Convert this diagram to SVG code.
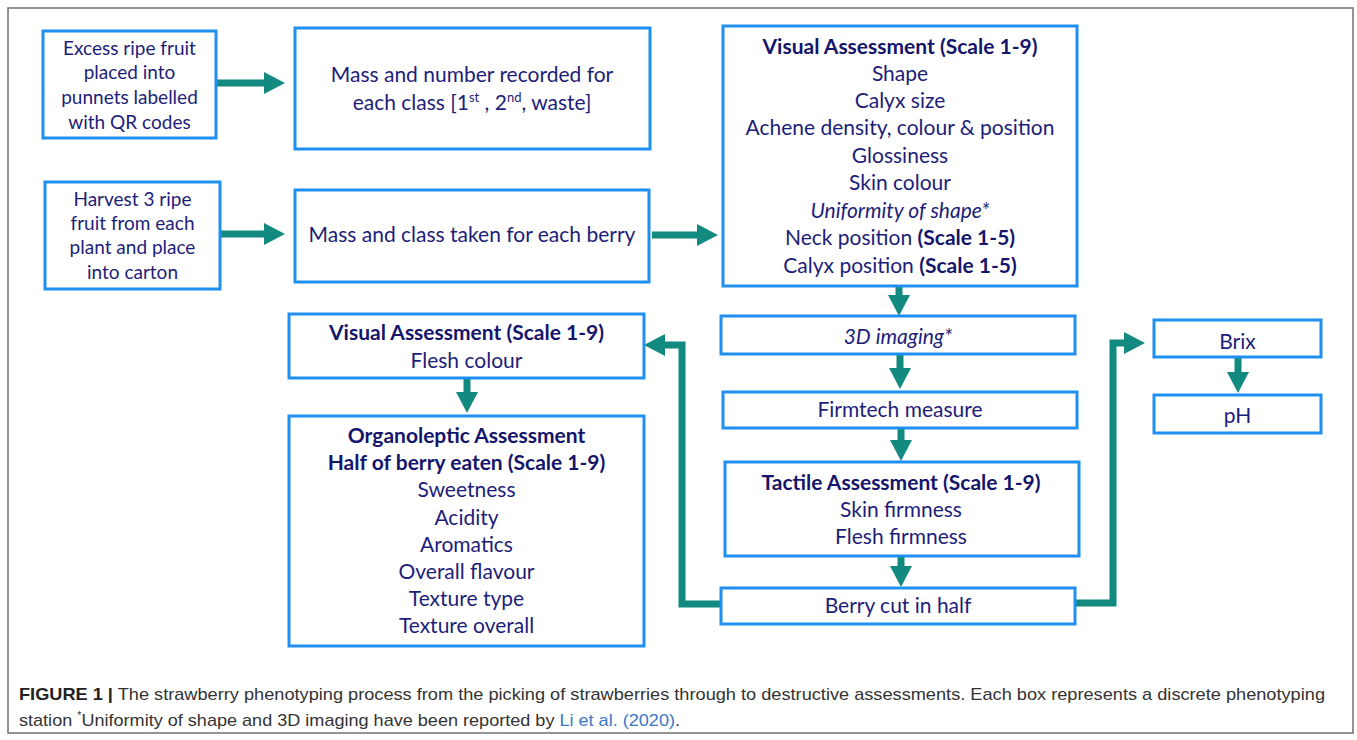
<svg xmlns="http://www.w3.org/2000/svg" width="1357" height="740" viewBox="0 0 1357 740">
<defs>
<style>
.box{fill:#ffffff;stroke:#1f8ff0;stroke-width:3}
.t{font-family:Lato,"Open Sans","Liberation Sans",sans-serif;font-size:21px;fill:#1d1d7a;text-anchor:middle}
.s{font-size:19px}
.b{font-weight:bold;fill:#15156b}
.i{font-style:italic}
.c{fill:none;stroke:#138a80;stroke-width:7;stroke-linejoin:miter;stroke-linecap:butt}
.cap{font-family:"Liberation Sans",Arial,sans-serif;font-size:17px;fill:#333333}
</style>
<marker id="ah" markerUnits="userSpaceOnUse" markerWidth="22" markerHeight="22" viewBox="0 0 22 22" refX="0" refY="11" orient="auto">
<path d="M0,0 L21,11 L0,22 Z" fill="#138a80"/>
</marker>
</defs>
<rect width="1357" height="740" fill="#ffffff"/>
<rect x="8" y="8" width="1345" height="725" fill="none" stroke="#707070" stroke-width="1.5"/>

<g id="connectors">
<path class="c" d="M216,83 H264" marker-end="url(#ah)"/>
<path class="c" d="M220,234 H264" marker-end="url(#ah)"/>
<path class="c" d="M652,235 H697" marker-end="url(#ah)"/>
<path class="c" d="M899,286 V295" marker-end="url(#ah)"/>
<path class="c" d="M900,355 V368" marker-end="url(#ah)"/>
<path class="c" d="M901,428 V440" marker-end="url(#ah)"/>
<path class="c" d="M901,556 V566" marker-end="url(#ah)"/>
<path class="c" d="M721,604 H682 V345 H665" marker-end="url(#ah)"/>
<path class="c" d="M1075,603 H1113 V343 H1124" marker-end="url(#ah)"/>
<path class="c" d="M1238,357 V372" marker-end="url(#ah)"/>
<path class="c" d="M467,378 V392" marker-end="url(#ah)"/>
</g>

<g id="n-excess">
<rect class="box" x="43" y="31" width="173" height="107"/>
<text class="t s" x="129.5" y="55">Excess ripe fruit</text>
<text class="t s" x="129.5" y="79">placed into</text>
<text class="t s" x="129.5" y="104">punnets labelled</text>
<text class="t s" x="129.5" y="129">with QR codes</text>
</g>

<g id="n-massnumber">
<rect class="box" x="295" y="28" width="355" height="121"/>
<text class="t" x="472" y="82">Mass and number recorded for</text>
<text class="t" x="472" y="110">each class [1<tspan font-size="13" dy="-8">st</tspan><tspan dy="8"> , 2</tspan><tspan font-size="13" dy="-8">nd</tspan><tspan dy="8">, waste]</tspan></text>
</g>

<g id="n-harvest">
<rect class="box" x="45" y="182" width="175" height="107"/>
<text class="t s" x="132.5" y="206">Harvest 3 ripe</text>
<text class="t s" x="132.5" y="230">fruit from each</text>
<text class="t s" x="132.5" y="254">plant and place</text>
<text class="t s" x="132.5" y="279">into carton</text>
</g>

<g id="n-massclass">
<rect class="box" x="295" y="190" width="354" height="92"/>
<text class="t" x="472" y="242">Mass and class taken for each berry</text>
</g>

<g id="n-visual">
<rect class="box" x="723" y="26" width="354" height="260"/>
<text class="t b" x="900" y="54">Visual Assessment (Scale 1-9)</text>
<text class="t" x="900" y="81">Shape</text>
<text class="t" x="900" y="108">Calyx size</text>
<text class="t" x="900" y="135">Achene density, colour &amp; position</text>
<text class="t" x="900" y="163">Glossiness</text>
<text class="t" x="900" y="190">Skin colour</text>
<text class="t i" x="900" y="218">Uniformity of shape*</text>
<text class="t" x="900" y="245">Neck position <tspan class="b">(Scale 1-5)</tspan></text>
<text class="t" x="900" y="273">Calyx position <tspan class="b">(Scale 1-5)</tspan></text>
</g>

<g id="n-3d">
<rect class="box" x="721" y="316" width="354" height="38"/>
<text class="t i" x="898" y="344">3D imaging*</text>
</g>

<g id="n-firmtech">
<rect class="box" x="723" y="392" width="354" height="36"/>
<text class="t" x="900" y="417">Firmtech measure</text>
</g>

<g id="n-tactile">
<rect class="box" x="725" y="462" width="354" height="94"/>
<text class="t b" x="901" y="490">Tactile Assessment (Scale 1-9)</text>
<text class="t" x="901" y="517">Skin firmness</text>
<text class="t" x="901" y="544">Flesh firmness</text>
</g>

<g id="n-cut">
<rect class="box" x="721" y="588" width="354" height="36"/>
<text class="t" x="898" y="613">Berry cut in half</text>
</g>

<g id="n-brix">
<rect class="box" x="1154" y="320" width="167" height="37"/>
<text class="t" x="1237.5" y="349">Brix</text>
</g>

<g id="n-ph">
<rect class="box" x="1154" y="395" width="167" height="38"/>
<text class="t" x="1237.5" y="423">pH</text>
</g>

<g id="n-flesh">
<rect class="box" x="289" y="314" width="355" height="64"/>
<text class="t b" x="466.5" y="340">Visual Assessment (Scale 1-9)</text>
<text class="t" x="466.5" y="368">Flesh colour</text>
</g>

<g id="n-organoleptic">
<rect class="box" x="289" y="416" width="355" height="230"/>
<text class="t b" x="466.5" y="443">Organoleptic Assessment</text>
<text class="t b" x="466.5" y="470">Half of berry eaten (Scale 1-9)</text>
<text class="t" x="466.5" y="497">Sweetness</text>
<text class="t" x="466.5" y="525">Acidity</text>
<text class="t" x="466.5" y="552">Aromatics</text>
<text class="t" x="466.5" y="579">Overall flavour</text>
<text class="t" x="466.5" y="606">Texture type</text>
<text class="t" x="466.5" y="633">Texture overall</text>
</g>

<g id="caption">
<text class="cap" x="19" y="700" textLength="1306" lengthAdjust="spacingAndGlyphs"><tspan font-weight="bold" fill="#222222">FIGURE 1 |</tspan> The strawberry phenotyping process from the picking of strawberries through to destructive assessments. Each box represents a discrete phenotyping</text>
<text class="cap" x="19" y="726" textLength="661" lengthAdjust="spacingAndGlyphs">station <tspan font-size="10" dy="-7">*</tspan><tspan dy="7">Uniformity of shape and 3D imaging have been reported by </tspan><tspan fill="#3b78c4">Li et al. (2020)</tspan>.</text>
</g>
</svg>
